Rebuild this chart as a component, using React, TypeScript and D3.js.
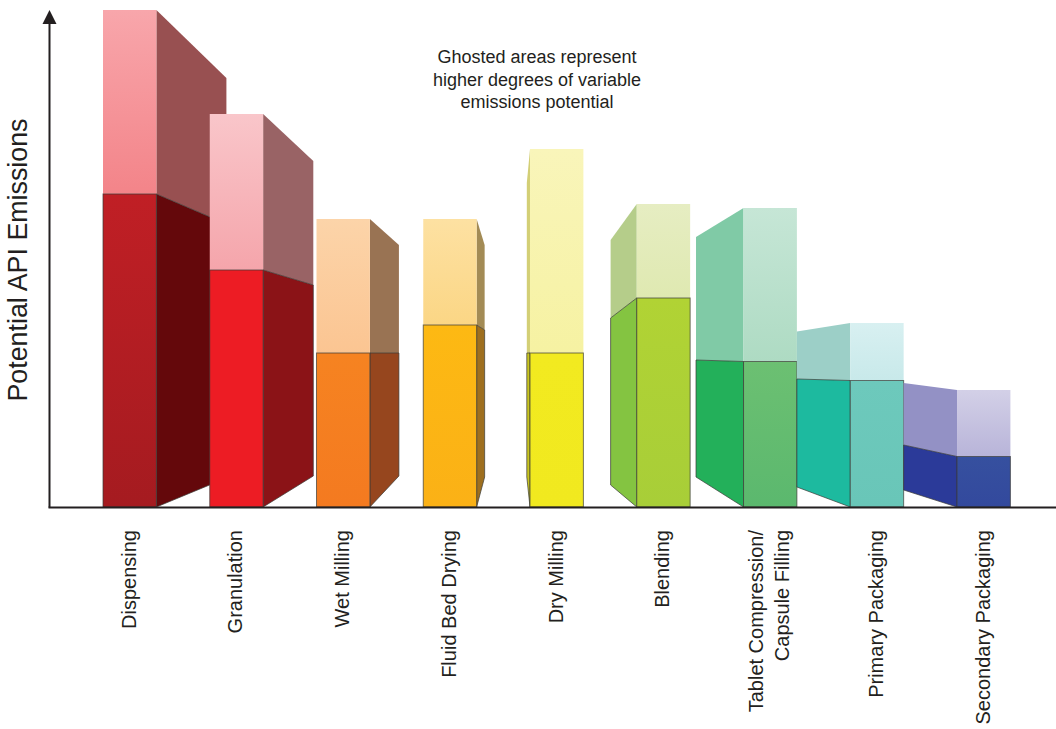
import React from "react";
import * as d3 from "d3";

// Process steps, in the order material moves through manufacture
const categories = [
  "Dispensing",
  "Granulation",
  "Wet Milling",
  "Fluid Bed Drying",
  "Dry Milling",
  "Blending",
  "Tablet Compression/\nCapsule Filling",
  "Primary Packaging",
  "Secondary Packaging",
];

// Front face heights: baseline emissions and the variable (ghosted) upper limit
const solidFront = [313, 237, 154, 182, 154, 209, 145.5, 126.5, 50.5];
const ghostFront = [497, 393, 288, 288, 358, 303, 299, 184, 117];

// Heights on the far edge of the receding side face
const solidSide = [283, 222, 154, 177, 154, 189, 147, 128, 62];
const ghostSide = [429, 346, 262, 262, 324, 267, 270, 175.5, 124];
const baseSide = [29, 31, 31, 30, 30, 22, 30, 20, 17];

// Side face depth as a share of the band step; negative recedes to the left
const sideDepth = [0.656, 0.47, 0.272, 0.075, -0.03, -0.245, -0.445, -0.5, -0.5];

const ghostFrontColors = [
  ["#f8a6ab", "#f38489"],
  ["#f9c6ca", "#f5a5ab"],
  ["#fcd4a9", "#fbc592"],
  ["#fde1a2", "#fbd685"],
  ["#f9f5ba", "#f6f2a2"],
  ["#e6edc2", "#dfe9b1"],
  ["#c6e6d6", "#aedbc3"],
  ["#d8f0f1", "#c8e9ea"],
  ["#d3d0e7", "#b8b4d9"],
];
const ghostSideColors = ["#985051", "#996365", "#997353", "#a38b55", "#d3cf76", "#b5cd8a", "#80caa6", "#9ccfc7", "#9391c5"];
const solidFrontColors = [
  ["#c01f25", "#a51b20"],
  ["#ed1c24", "#ed1c24"],
  ["#f68321", "#f47a20"],
  ["#fdb913", "#fbb116"],
  ["#f2ea20", "#f1e91f"],
  ["#b1d334", "#a8ce38"],
  ["#6cc072", "#5bb86e"],
  ["#6dc9bc", "#69c6b8"],
  ["#36509f", "#33499d"],
];
const solidSideColors = ["#64080b", "#8b1317", "#96461e", "#9e6f1f", "#c9c51f", "#84c441", "#23b05a", "#1dba9f", "#2b3a99"];

const noteLines = [
  "Ghosted areas represent",
  "higher degrees of variable",
  "emissions potential",
];
const yAxisTitle = "Potential API Emissions";

const FONT = '"Liberation Sans", Arial, sans-serif';
const INK = "#231f20";

const x = d3.scaleBand<string>().domain(categories).range([103, 1010.4]).paddingInner(0.5).paddingOuter(0);
const y = d3.scaleLinear().domain([0, 497]).range([507, 10]);
const outline = d3.line<[number, number]>();

export default function App() {
  const band = x.bandwidth();
  const step = x.step();
  return (
    <svg
      width={1056}
      height={729}
      viewBox="0 0 1056 729"
      style={{ position: "absolute", left: 0, top: 0, background: "#fff" }}
    >
      <defs>
        {categories.map((_, i) => (
          <React.Fragment key={i}>
            <linearGradient id={`ghost-${i}`} x1="0" y1="0" x2="0" y2="1">
              <stop offset="0" stopColor={ghostFrontColors[i][0]} />
              <stop offset="1" stopColor={ghostFrontColors[i][1]} />
            </linearGradient>
            <linearGradient id={`solid-${i}`} x1="0" y1="0" x2="0" y2="1">
              <stop offset="0" stopColor={solidFrontColors[i][0]} />
              <stop offset="1" stopColor={solidFrontColors[i][1]} />
            </linearGradient>
          </React.Fragment>
        ))}
      </defs>

      {categories.map((name, i) => {
        const x0 = x(name)!;
        const x1 = x0 + band;
        const depth = sideDepth[i] * step;
        // The side face hangs off whichever vertical edge faces the depth direction
        const near = depth >= 0 ? x1 : x0;
        const far = near + depth;
        const ghostSidePath = outline([
          [near, y(ghostFront[i])],
          [far, y(ghostSide[i])],
          [far, y(solidSide[i])],
          [near, y(solidFront[i])],
        ])! + "Z";
        const solidSidePath = outline([
          [near, y(solidFront[i])],
          [far, y(solidSide[i])],
          [far, y(baseSide[i])],
          [near, y(0)],
        ])! + "Z";
        return (
          <g key={name}>
            <path d={ghostSidePath} fill={ghostSideColors[i]} />
            <path d={solidSidePath} fill={solidSideColors[i]} stroke="#3a3a36" strokeOpacity={0.7} strokeWidth={1} />
            <rect
              x={x0}
              y={y(ghostFront[i])}
              width={band}
              height={y(solidFront[i]) - y(ghostFront[i])}
              fill={`url(#ghost-${i})`}
            />
            <rect
              x={x0}
              y={y(solidFront[i])}
              width={band}
              height={y(0) - y(solidFront[i])}
              fill={`url(#solid-${i})`}
              stroke="#3a3a36"
              strokeOpacity={0.7}
              strokeWidth={1}
            />
          </g>
        );
      })}

      {/* Axes */}
      <path d="M48.5 507.5H1056" fill="none" stroke={INK} strokeWidth={2} />
      <path d="M49.5 507.5V20" fill="none" stroke={INK} strokeWidth={2} />
      <path d="M49.5 10L56.5 24H42.5Z" fill={INK} />

      <text
        transform="translate(27,260) rotate(-90)"
        textAnchor="middle"
        fontFamily={FONT}
        fontSize={26.8}
        fill={INK}
      >
        {yAxisTitle}
      </text>

      {noteLines.map((line, i) => (
        <text key={line} x={537} y={63 + i * 22.5} textAnchor="middle" fontFamily={FONT} fontSize={18} fill={INK}>
          {line}
        </text>
      ))}

      {categories.map((name) => {
        const cx = x(name)! + band / 2;
        const lines = name.split("\n");
        const isDouble = lines.length > 1;
        return (
          <g key={name}>
            {lines.map((line, j) => (
              <text
                key={line}
                transform={`translate(${isDouble ? cx - 7 + j * 26 : cx + 6},530) rotate(-90)`}
                textAnchor="end"
                fontFamily={FONT}
                fontSize={20}
                fill={INK}
              >
                {line}
              </text>
            ))}
          </g>
        );
      })}
    </svg>
  );
}
